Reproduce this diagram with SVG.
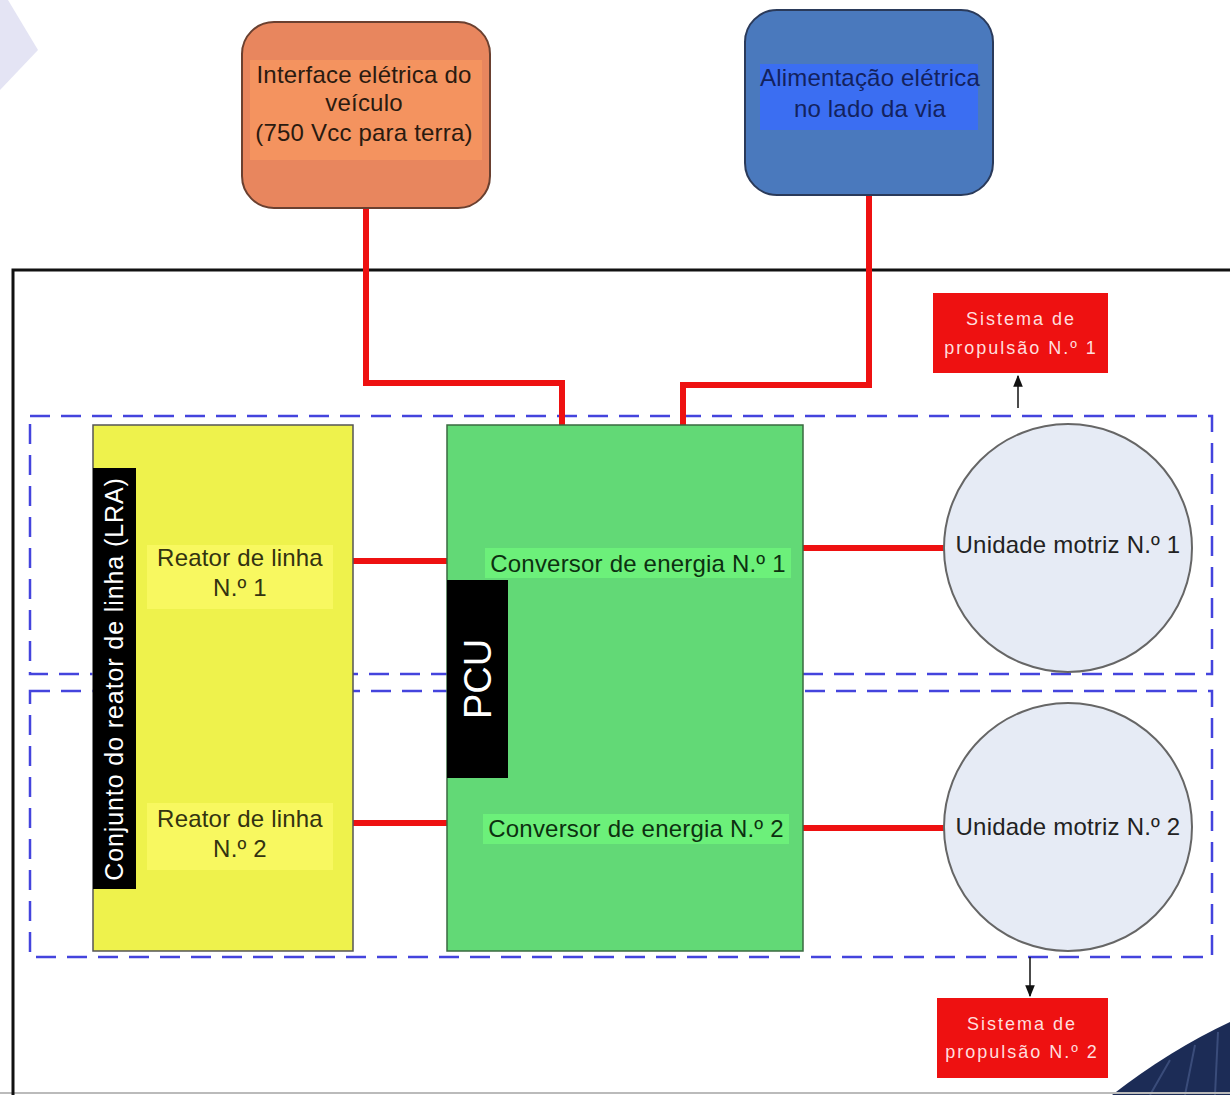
<svg xmlns="http://www.w3.org/2000/svg" width="1230" height="1095" viewBox="0 0 1230 1095">
<style>
text{font-family:"Liberation Sans",Arial,sans-serif;}
.t22{font-size:24px;text-anchor:middle;letter-spacing:0.2px;}
.red{stroke:#ee1111;stroke-width:6;fill:none;}
.dash{fill:none;stroke:#4444dd;stroke-width:2.5;stroke-dasharray:20 11;}
.prop{fill:#ee1111;}
.propt{font-size:18px;fill:#ffdede;text-anchor:middle;letter-spacing:2px;}
.circ{fill:#e6ebf5;stroke:#666;stroke-width:2;}
</style>
<defs>
<marker id="ah" viewBox="0 0 10 10" refX="9" refY="5" markerWidth="8" markerHeight="8" orient="auto">
<path d="M0,1 L10,5 L0,9 Z" fill="#111"/>
</marker>
</defs>
<rect width="1230" height="1095" fill="#fff"/>
<polygon points="0,0 8,0 38,50 0,90" fill="#e4e4f4"/>
<path d="M1112,1095 Q1170,1050 1230,1022 L1230,1095 Z" fill="#1c2c56"/>
<path d="M1150,1095 L1170,1060 M1185,1095 L1195,1045 M1215,1095 L1218,1032" stroke="#3a4c7a" stroke-width="2"/>
<line x1="0" y1="1093" x2="1230" y2="1093" stroke="#bbb" stroke-width="2"/>
<path d="M13,1095 L13,270 L1230,270" fill="none" stroke="#111" stroke-width="3"/>

<g id="dashed-groups">
<rect class="dash" x="30" y="416" width="1182" height="258"/>
<rect class="dash" x="30" y="691" width="1182" height="266"/>
</g>

<g id="connectors">
<polyline class="red" points="366,208 366,383 562,383 562,427"/>
<polyline class="red" points="869,195 869,385 683,385 683,427"/>
<line class="red" x1="353" y1="561" x2="447" y2="561"/>
<line class="red" x1="353" y1="823" x2="447" y2="823"/>
<line class="red" x1="803" y1="548" x2="945" y2="548"/>
<line class="red" x1="803" y1="828" x2="945" y2="828"/>
<line x1="1018" y1="408" x2="1018" y2="376" stroke="#111" stroke-width="1.5" marker-end="url(#ah)"/>
<line x1="1030" y1="957" x2="1030" y2="996" stroke="#111" stroke-width="1.5" marker-end="url(#ah)"/>
</g>

<g id="interface">
<rect x="242" y="22" width="248" height="186" rx="32" fill="#e8865e" stroke="#6a4030" stroke-width="2"/>
<rect x="250" y="60" width="232" height="100" fill="#f4935f"/>
<text class="t22" fill="#2a1a10"><tspan x="364" y="83">Interface elétrica do</tspan><tspan x="364" y="111">veículo</tspan><tspan x="364" y="141">(750 Vcc para terra)</tspan></text>
</g>

<g id="alimentacao">
<rect x="745" y="10" width="248" height="185" rx="32" fill="#4a79bd" stroke="#2a3a5a" stroke-width="2"/>
<rect x="760" y="64" width="218" height="66" fill="#3b6ef2"/>
<text class="t22" fill="#13225e" letter-spacing="-0.3"><tspan x="870" y="86">Alimentação elétrica</tspan><tspan x="870" y="117">no lado da via</tspan></text>
</g>

<g id="prop1">
<rect class="prop" x="933" y="293" width="175" height="80"/>
<text class="propt"><tspan x="1021" y="325">Sistema de</tspan><tspan x="1021" y="354">propulsão N.º 1</tspan></text>
</g>

<g id="prop2">
<rect class="prop" x="937" y="998" width="171" height="80"/>
<text class="propt"><tspan x="1022" y="1030">Sistema de</tspan><tspan x="1022" y="1058">propulsão N.º 2</tspan></text>
</g>

<g id="lra">
<rect x="93" y="425" width="260" height="526" fill="#eef24c" stroke="#555" stroke-width="1.5"/>
<rect x="93" y="468" width="43" height="421" fill="#000"/>
<text fill="#fff" font-size="25" letter-spacing="0.9" text-anchor="middle" transform="translate(123,679) rotate(-90)" x="0" y="0">Conjunto do reator de linha (LRA)</text>
</g>

<g id="reator1">
<rect x="147" y="545" width="186" height="64" fill="#f8f860"/>
<text class="t22" fill="#333310"><tspan x="240" y="566">Reator de linha</tspan><tspan x="240" y="596">N.º 1</tspan></text>
</g>

<g id="reator2">
<rect x="147" y="803" width="186" height="67" fill="#f8f860"/>
<text class="t22" fill="#333310"><tspan x="240" y="827">Reator de linha</tspan><tspan x="240" y="857">N.º 2</tspan></text>
</g>

<g id="pcu">
<rect x="447" y="425" width="356" height="526" fill="#62d976" stroke="#3a6a40" stroke-width="1.5"/>
<rect x="447" y="580" width="61" height="198" fill="#000"/>
<text fill="#fff" font-size="38" text-anchor="middle" transform="translate(491,679) rotate(-90)">PCU</text>
</g>

<g id="conv1">
<rect x="485" y="548" width="306" height="30" fill="#6cf07a"/>
<text class="t22" fill="#0c3010" x="638" y="572">Conversor de energia N.º 1</text>
</g>

<g id="conv2">
<rect x="483" y="814" width="306" height="30" fill="#6cf07a"/>
<text class="t22" fill="#0c3010" x="636" y="837">Conversor de energia N.º 2</text>
</g>

<g id="motor1">
<circle class="circ" cx="1068" cy="548" r="124"/>
<text class="t22" fill="#222" x="1068" y="553" letter-spacing="-0.2">Unidade motriz N.º 1</text>
</g>

<g id="motor2">
<circle class="circ" cx="1068" cy="827" r="124"/>
<text class="t22" fill="#222" x="1068" y="835" letter-spacing="-0.2">Unidade motriz N.º 2</text>
</g>
</svg>
